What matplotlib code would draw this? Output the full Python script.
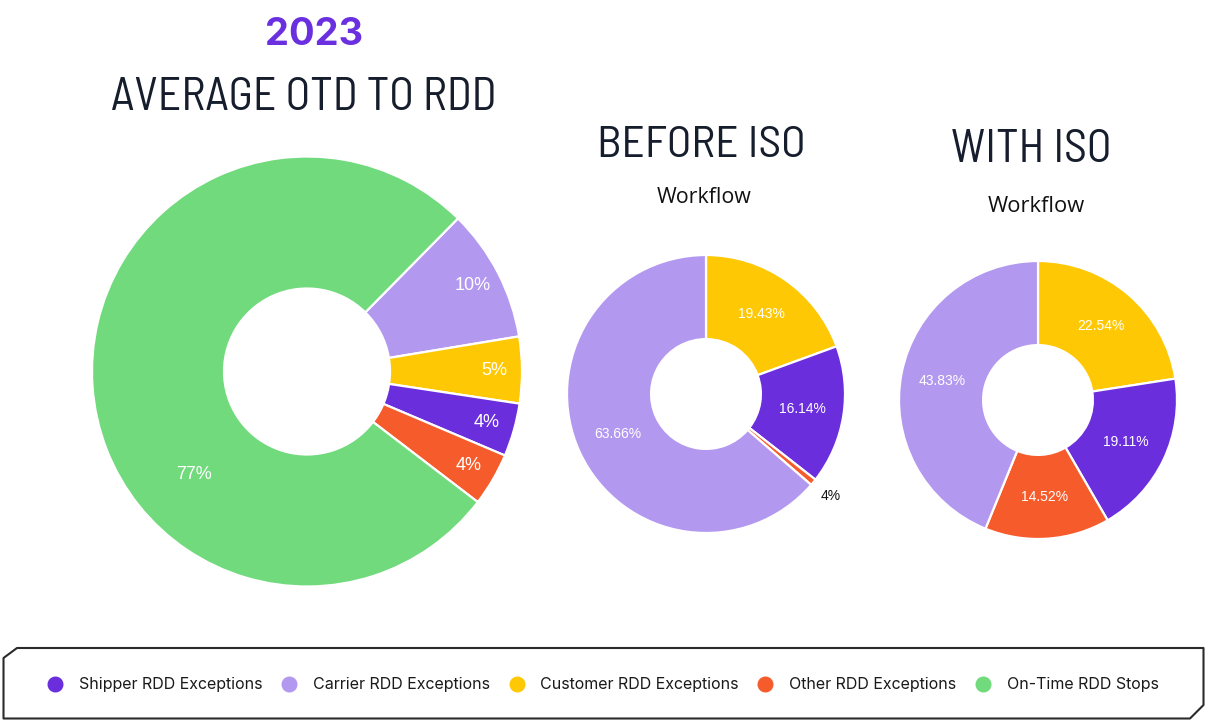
import matplotlib
matplotlib.use("Agg")
import matplotlib.pyplot as plt
from matplotlib.patches import Polygon
from matplotlib.lines import Line2D
from matplotlib import font_manager as fm
import numpy as np

# ---------------- data ----------------
categories = ["Shipper RDD Exceptions", "Carrier RDD Exceptions", "Customer RDD Exceptions",
              "Other RDD Exceptions", "On-Time RDD Stops"]
colors = {"Shipper RDD Exceptions": "#6A2EDD",
          "Carrier RDD Exceptions": "#B398F0",
          "Customer RDD Exceptions": "#FFC805",
          "Other RDD Exceptions": "#F65C2B",
          "On-Time RDD Stops": "#70DA7C"}

avg_order = ["Carrier RDD Exceptions", "Customer RDD Exceptions", "Shipper RDD Exceptions",
             "Other RDD Exceptions", "On-Time RDD Stops"]
avg_values = [10, 5, 4, 4, 77]
avg_labels = ["10%", "5%", "4%", "4%", "77%"]

before_order = ["Customer RDD Exceptions", "Shipper RDD Exceptions", "Other RDD Exceptions",
                "Carrier RDD Exceptions"]
before_values = [19.43, 16.14, 0.77, 63.66]
before_labels = ["19.43%", "16.14%", "4%", "63.66%"]

with_order = ["Customer RDD Exceptions", "Shipper RDD Exceptions", "Other RDD Exceptions",
              "Carrier RDD Exceptions"]
with_values = [22.54, 19.11, 14.52, 43.83]
with_labels = ["22.54%", "19.11%", "14.52%", "43.83%"]

# ---------------- fonts ----------------
available = {f.name for f in fm.fontManager.ttflist}


def _w(v):
    try:
        return int(v)
    except Exception:
        return {"bold": 700, "heavy": 800, "black": 900, "extra bold": 800,
                "semibold": 600, "demibold": 600}.get(str(v).lower(), 400)


bold_available = {f.name for f in fm.fontManager.ttflist
                  if _w(f.weight) >= 700 and f.style == "normal"}


def pick(cands, need_bold=False):
    pool = bold_available if need_bold else available
    for c in cands:
        if c in pool:
            return [c, "DejaVu Sans"]
    return ["DejaVu Sans"]


TITLE_FONT = pick(["Barlow Semi Condensed", "Barlow Condensed", "Saira Semi Condensed",
                   "Roboto Condensed", "Archivo Narrow", "PT Sans Narrow", "Open Sans Condensed",
                   "Liberation Sans Narrow"])
YEAR_FONT = pick(["Manrope", "Inter", "Archivo", "Roboto", "Liberation Sans"], need_bold=True)
LABEL_FONT = pick(["Liberation Sans", "Arimo", "Roboto"])
LEGEND_FONT = pick(["Inter", "Liberation Sans"])
WF_FONT = pick(["Open Sans", "Noto Sans"])

W, H = 1205, 720
fig = plt.figure(figsize=(W / 100, H / 100), dpi=100)
fig.patch.set_facecolor("white")
renderer = fig.canvas.get_renderer()
DARK = "#161D2C"


def px_axes(cx, cy, r):
    return fig.add_axes([(cx - r) / W, 1 - (cy + r) / H, 2 * r / W, 2 * r / H])


def donut(ax, values, order, labels, hole, start, label_r, fsize, special=None):
    wedges, _ = ax.pie(values, colors=[colors[c] for c in order], startangle=start,
                       counterclock=False, radius=1.0,
                       wedgeprops=dict(width=1 - hole, edgecolor="white", linewidth=1.6))
    for i, (w, lab) in enumerate(zip(wedges, labels)):
        ang = np.deg2rad((w.theta1 + w.theta2) / 2)
        r = label_r
        col = "white"
        if special and i in special:
            a, r, col = special[i]
            if a is not None:
                ang = np.deg2rad(a)
        ax.text(r * np.cos(ang), r * np.sin(ang), lab, ha="center", va="center",
                color=col, fontsize=fsize, family=LABEL_FONT)
    ax.set_xlim(-1, 1)
    ax.set_ylim(-1, 1)
    ax.set_aspect("equal")
    ax.axis("off")


# large donut
ax1 = px_axes(307, 371.5, 215)
donut(ax1, avg_values, avg_order, avg_labels, 0.386, 45.4, 0.87, 13,
      special={4: (-137.5, 0.71, "white")})

# before ISO
ax2 = px_axes(706, 394, 139)
donut(ax2, before_values, before_order, before_labels, 0.395, 90, 0.70, 10,
      special={2: (None, 1.16, "#111111")})

# with ISO
ax3 = px_axes(1038, 400, 139)
donut(ax3, with_values, with_order, with_labels, 0.395, 90, 0.70, 10)


# ---------------- titles (font size fitted to the reference width) ----------------
def ftext(x, y, s, target_w, fs, **kw):
    t = fig.text(x / W, 1 - y / H, s, fontsize=fs, **kw)
    w = t.get_window_extent(renderer).width
    if w > 0:
        t.set_fontsize(fs * target_w / w)
    return t


ftext(314, 45, "2023", 98, 28, ha="center", va="baseline", fontweight="bold",
      color="#6A30E0", family=YEAR_FONT)
ftext(304, 110, "AVERAGE OTD TO RDD", 387, 31, ha="center", va="baseline",
      color=DARK, family=TITLE_FONT)
ftext(701, 157, "BEFORE ISO", 209, 30, ha="center", va="baseline",
      color=DARK, family=TITLE_FONT)
ftext(1031, 162, "WITH ISO", 161, 31, ha="center", va="baseline",
      color=DARK, family=TITLE_FONT)
ftext(704, 203, "Workflow", 95, 14, ha="center", va="baseline",
      color="#111111", family=WF_FONT)
ftext(1036, 212, "Workflow", 97, 14, ha="center", va="baseline",
      color="#111111", family=WF_FONT)

# ---------------- legend box ----------------
box_pts = [(3.5, 658), (17, 648), (1203.5, 648), (1203.5, 705), (1190, 718.5), (3.5, 718.5)]
box = Polygon([(x / W, 1 - y / H) for x, y in box_pts], closed=True, fill=False,
              edgecolor="#2B2B2B", linewidth=1.5, transform=fig.transFigure, joinstyle="round")
fig.add_artist(box)

# legend font size fitted so that the first label is as wide as in the reference
probe = fig.text(0, 0, categories[0], fontsize=11, family=LEGEND_FONT)
leg_fs = 11 * 183 / probe.get_window_extent(renderer).width
probe.remove()

handles = [Line2D([], [], marker="o", linestyle="", markersize=10.5,
                  markerfacecolor=colors[c], markeredgecolor=colors[c]) for c in categories]
leg = fig.legend(handles, categories, loc="center", bbox_to_anchor=(603 / W, 1 - 685 / H),
                 ncol=5, frameon=False, handlelength=1.0, handletextpad=1.0,
                 columnspacing=1.15, prop={"family": LEGEND_FONT, "size": leg_fs})
for t in leg.get_texts():
    t.set_color("#1A1A1A")

fig.savefig("out.png", dpi=100, facecolor="white")
